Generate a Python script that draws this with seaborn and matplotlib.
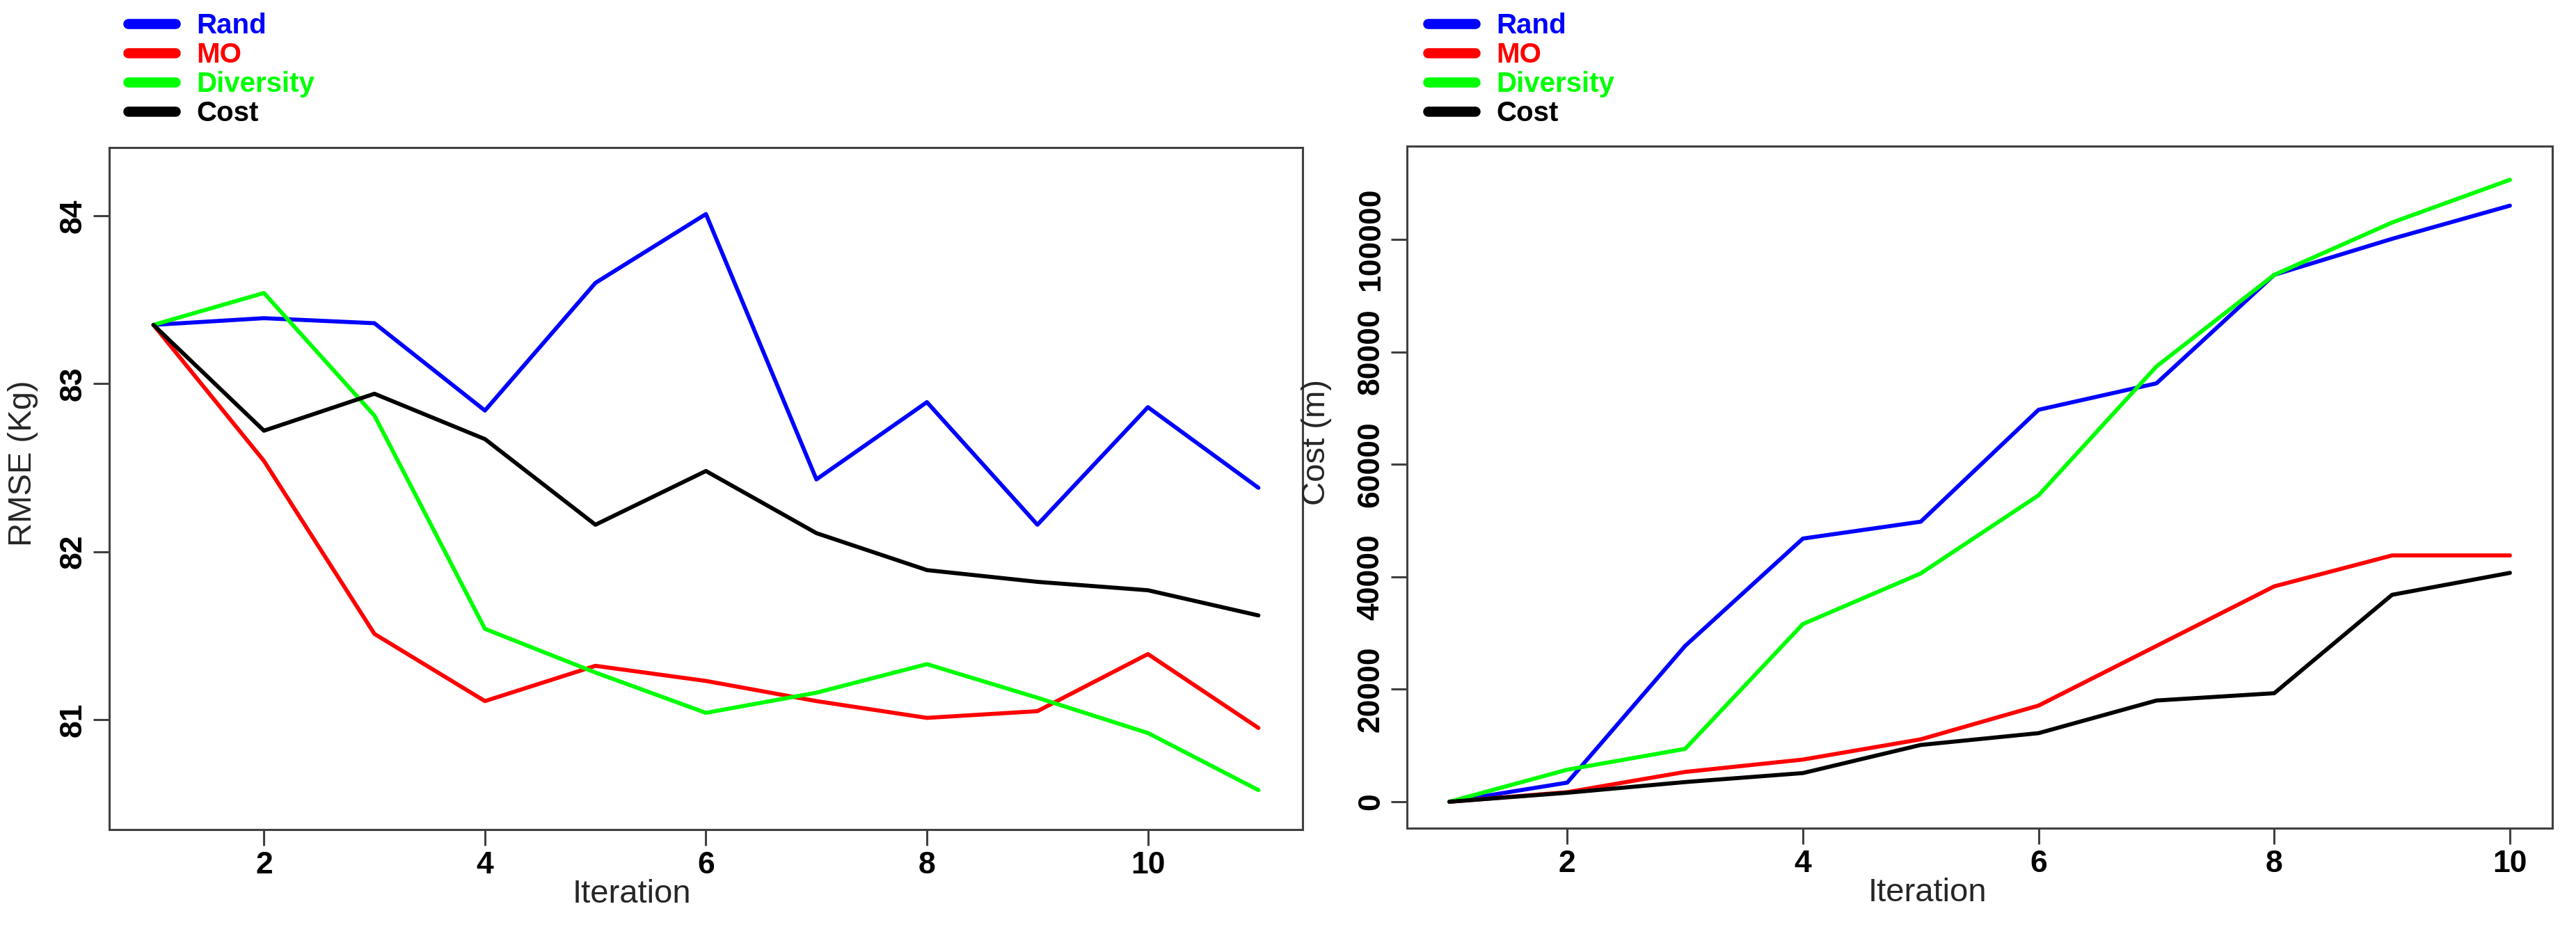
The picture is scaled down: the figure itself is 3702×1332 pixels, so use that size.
import matplotlib
matplotlib.use("Agg")
import matplotlib.pyplot as plt
from matplotlib.lines import Line2D
import seaborn as sns
import pandas as pd

# ---------------- data ----------------
methods = ["Rand", "MO", "Diversity", "Cost"]
colors = ["#0000FF", "#FF0000", "#00FF00", "#000000"]

iter_rmse = [1, 2, 3, 4, 5, 6, 7, 8, 9, 10, 11]
rmse_rand = [83.35, 83.39, 83.36, 82.84, 83.60, 84.01, 82.43, 82.89, 82.16, 82.86, 82.38]
rmse_mo = [83.35, 82.54, 81.51, 81.11, 81.32, 81.23, 81.11, 81.01, 81.05, 81.39, 80.95]
rmse_div = [83.35, 83.54, 82.81, 81.54, 81.28, 81.04, 81.16, 81.33, 81.13, 80.92, 80.58]
rmse_cost = [83.35, 82.72, 82.94, 82.67, 82.16, 82.48, 82.11, 81.89, 81.82, 81.77, 81.62]

iter_cost = [1, 2, 3, 4, 5, 6, 7, 8, 9, 10]
cost_rand = [0, 3400, 27700, 46800, 49800, 69700, 74400, 93700, 100100, 106000]
cost_mo = [0, 1700, 5300, 7500, 11100, 17100, 27700, 38300, 43800, 43800]
cost_div = [0, 5700, 9400, 31600, 40600, 54500, 77400, 93700, 103000, 110600]
cost_cost = [0, 1600, 3500, 5100, 10100, 12200, 18000, 19300, 36800, 40700]

x_ticks = [2, 4, 6, 8, 10]
rmse_ticks = [81, 82, 83, 84]
cost_ticks = [0, 20000, 40000, 60000, 80000, 100000]


def long_df(x, series):
    rows = []
    for name, vals in zip(methods, series):
        for xi, v in zip(x, vals):
            rows.append({"Iteration": xi, "value": v, "Method": name})
    return pd.DataFrame(rows)


df_rmse = long_df(iter_rmse, [rmse_rand, rmse_mo, rmse_div, rmse_cost])
df_cost = long_df(iter_cost, [cost_rand, cost_mo, cost_div, cost_cost])

# ---------------- style ----------------
sns.set_style("white")
plt.rcParams["font.family"] = ["Liberation Sans", "DejaVu Sans"]

W, H = 3702, 1332
DPI = 100
fig = plt.figure(figsize=(W / DPI, H / DPI), dpi=DPI)


def frac_axes(x0, x1, y_top, y_bot):
    return fig.add_axes([x0 / W, 1 - y_bot / H, (x1 - x0) / W, (y_bot - y_top) / H])


ax1 = frac_axes(157, 1872, 212, 1192)
ax2 = frac_axes(2022, 3668, 210, 1190)

palette = dict(zip(methods, colors))
for ax, df in [(ax1, df_rmse), (ax2, df_cost)]:
    sns.lineplot(data=df, x="Iteration", y="value", hue="Method",
                 hue_order=methods, palette=palette, ax=ax,
                 legend=False, linewidth=4.2, sort=False)

ax1.set_xlim(0.6, 11.4)
ax1.set_ylim(80.345, 84.406)
ax1.set_yticks(rmse_ticks)
ax1.set_yticklabels([str(t) for t in rmse_ticks])

ax2.set_xlim(0.64, 10.36)
ax2.set_ylim(-4700, 116580)
ax2.set_yticks(cost_ticks)
ax2.set_yticklabels([str(t) for t in cost_ticks])

spine_c = "#404040"
for ax in (ax1, ax2):
    ax.set_xticks(x_ticks)
    ax.set_xticklabels([str(t) for t in x_ticks])
    for s in ax.spines.values():
        s.set_visible(True)
        s.set_color(spine_c)
        s.set_linewidth(2.2)
    ax.tick_params(axis="both", direction="out", length=16.5, width=2.2,
                   color=spine_c, pad=6.0, labelsize=32, labelcolor="black")
    ax.tick_params(left=True, bottom=True)
    for lab in ax.get_xticklabels() + ax.get_yticklabels():
        lab.set_fontweight("bold")
    for lab in ax.get_yticklabels():
        lab.set_rotation(90)
        lab.set_va("center")
    ax.grid(False)
    ax.set_facecolor("white")

lab_fs = 34
ax1.set_xlabel("Iteration", fontsize=lab_fs)
ax1.set_ylabel("RMSE (Kg)", fontsize=lab_fs)
ax2.set_xlabel("Iteration", fontsize=lab_fs)
ax2.set_ylabel("Cost (m)", fontsize=lab_fs)

ax1.xaxis.set_label_coords(0.438, -0.072)
ax2.xaxis.set_label_coords(0.4545, -0.072)
ax1.yaxis.set_label_coords(-0.0595, 0.537)
ax2.yaxis.set_label_coords(-0.0656, 0.566)

# ---------------- legends ----------------
leg_fs = 29
em = leg_fs * DPI / 72
handles = [Line2D([0], [0], color=c, lw=10.5, solid_capstyle="round") for c in colors]
for x_left in (184, 2052):
    leg = fig.legend(handles, methods, loc="upper left",
                     bbox_to_anchor=(x_left / W, 1 - 18 / H),
                     frameon=False, borderpad=0, borderaxespad=0,
                     handlelength=68 / em,
                     handletextpad=30 / em,
                     labelspacing=0.1,
                     prop={"size": leg_fs, "weight": "bold"})
    for t, c in zip(leg.get_texts(), colors):
        t.set_color(c)

fig.savefig("out.png", dpi=DPI, facecolor="white")
